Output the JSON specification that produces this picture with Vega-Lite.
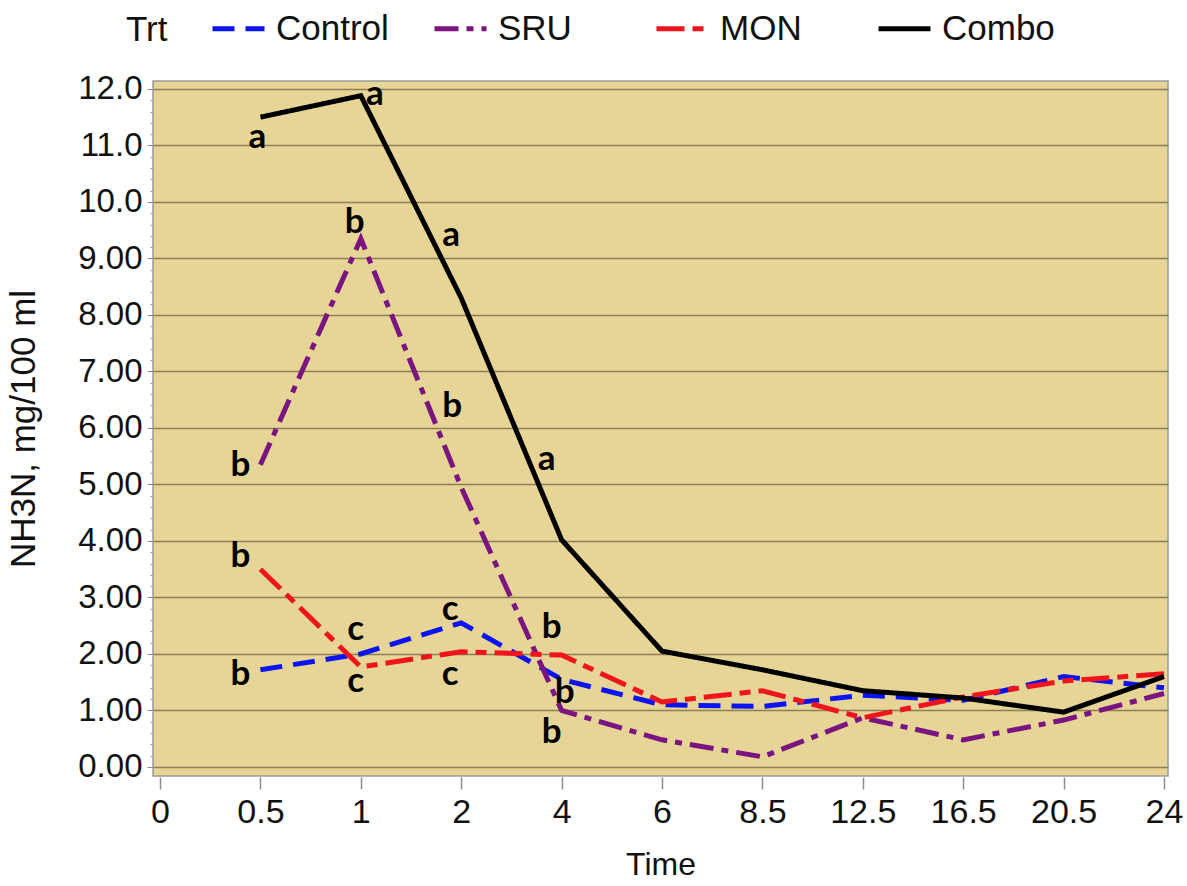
{
  "$schema": "https://vega.github.io/schema/vega-lite/v6.json",
  "width": 1015,
  "height": 695,
  "autosize": {"type": "none"},
  "padding": {"left": 153, "top": 81, "right": 19, "bottom": 110},
  "background": "white",
  "config": {
    "view": {"fill": "#E6D596", "stroke": "#9A9A9A", "strokeWidth": 1.5},
    "font": "Liberation Sans"
  },
  "datasets": {
    "series": [
      {"Trt": "Control", "Time": "0.5", "Slot": 1, "NH3N": 1.72},
      {"Trt": "Control", "Time": "1", "Slot": 2, "NH3N": 2.0},
      {"Trt": "Control", "Time": "2", "Slot": 3, "NH3N": 2.55},
      {"Trt": "Control", "Time": "4", "Slot": 4, "NH3N": 1.55},
      {"Trt": "Control", "Time": "6", "Slot": 5, "NH3N": 1.1},
      {"Trt": "Control", "Time": "8.5", "Slot": 6, "NH3N": 1.07},
      {"Trt": "Control", "Time": "12.5", "Slot": 7, "NH3N": 1.27},
      {"Trt": "Control", "Time": "16.5", "Slot": 8, "NH3N": 1.18},
      {"Trt": "Control", "Time": "20.5", "Slot": 9, "NH3N": 1.6},
      {"Trt": "Control", "Time": "24", "Slot": 10, "NH3N": 1.4},
      {"Trt": "SRU", "Time": "0.5", "Slot": 1, "NH3N": 5.35},
      {"Trt": "SRU", "Time": "1", "Slot": 2, "NH3N": 9.35},
      {"Trt": "SRU", "Time": "2", "Slot": 3, "NH3N": 4.95},
      {"Trt": "SRU", "Time": "4", "Slot": 4, "NH3N": 1.0},
      {"Trt": "SRU", "Time": "6", "Slot": 5, "NH3N": 0.48},
      {"Trt": "SRU", "Time": "8.5", "Slot": 6, "NH3N": 0.18},
      {"Trt": "SRU", "Time": "12.5", "Slot": 7, "NH3N": 0.87},
      {"Trt": "SRU", "Time": "16.5", "Slot": 8, "NH3N": 0.48},
      {"Trt": "SRU", "Time": "20.5", "Slot": 9, "NH3N": 0.83},
      {"Trt": "SRU", "Time": "24", "Slot": 10, "NH3N": 1.3},
      {"Trt": "MON", "Time": "0.5", "Slot": 1, "NH3N": 3.5},
      {"Trt": "MON", "Time": "1", "Slot": 2, "NH3N": 1.77},
      {"Trt": "MON", "Time": "2", "Slot": 3, "NH3N": 2.04},
      {"Trt": "MON", "Time": "4", "Slot": 4, "NH3N": 1.98},
      {"Trt": "MON", "Time": "6", "Slot": 5, "NH3N": 1.15},
      {"Trt": "MON", "Time": "8.5", "Slot": 6, "NH3N": 1.35},
      {"Trt": "MON", "Time": "12.5", "Slot": 7, "NH3N": 0.87},
      {"Trt": "MON", "Time": "16.5", "Slot": 8, "NH3N": 1.24},
      {"Trt": "MON", "Time": "20.5", "Slot": 9, "NH3N": 1.52},
      {"Trt": "MON", "Time": "24", "Slot": 10, "NH3N": 1.65},
      {"Trt": "Combo", "Time": "0.5", "Slot": 1, "NH3N": 11.5},
      {"Trt": "Combo", "Time": "1", "Slot": 2, "NH3N": 11.88},
      {"Trt": "Combo", "Time": "2", "Slot": 3, "NH3N": 8.3},
      {"Trt": "Combo", "Time": "4", "Slot": 4, "NH3N": 4.02},
      {"Trt": "Combo", "Time": "6", "Slot": 5, "NH3N": 2.05},
      {"Trt": "Combo", "Time": "8.5", "Slot": 6, "NH3N": 1.72},
      {"Trt": "Combo", "Time": "12.5", "Slot": 7, "NH3N": 1.35},
      {"Trt": "Combo", "Time": "16.5", "Slot": 8, "NH3N": 1.22},
      {"Trt": "Combo", "Time": "20.5", "Slot": 9, "NH3N": 0.97},
      {"Trt": "Combo", "Time": "24", "Slot": 10, "NH3N": 1.6}
    ],
    "letters": [
      {"Letter": "a", "Slot": 0.97, "Level": 10.96},
      {"Letter": "a", "Slot": 2.14, "Level": 11.72},
      {"Letter": "a", "Slot": 2.9, "Level": 9.22},
      {"Letter": "a", "Slot": 3.85, "Level": 5.26},
      {"Letter": "b", "Slot": 0.8, "Level": 5.15},
      {"Letter": "b", "Slot": 1.94, "Level": 9.45},
      {"Letter": "b", "Slot": 2.91, "Level": 6.19},
      {"Letter": "b", "Slot": 3.9, "Level": 0.42},
      {"Letter": "b", "Slot": 0.8, "Level": 3.54},
      {"Letter": "c", "Slot": 1.95, "Level": 1.33},
      {"Letter": "c", "Slot": 2.89, "Level": 1.45},
      {"Letter": "b", "Slot": 3.9, "Level": 2.28},
      {"Letter": "b", "Slot": 0.8, "Level": 1.45},
      {"Letter": "c", "Slot": 1.95, "Level": 2.25},
      {"Letter": "c", "Slot": 2.89, "Level": 2.6},
      {"Letter": "b", "Slot": 4.03, "Level": 1.13}
    ]
  },
  "resolve": {"scale": {"y": "shared", "x": "shared"}, "axis": {"y": "independent"}},
  "layer": [
    {
      "data": {"name": "series"},
      "mark": {"type": "line"},
      "encoding": {
        "x": {
          "field": "Slot", "type": "quantitative",
          "scale": {"domain": [-0.07, 10.04], "nice": false, "zero": false},
          "axis": {
            "values": [0, 1, 2, 3, 4, 5, 6, 7, 8, 9, 10],
            "labelExpr": "['0','0.5','1','2','4','6','8.5','12.5','16.5','20.5','24'][datum.value]",
            "grid": false, "domain": false, "offset": 1,
            "tickSize": 12, "tickColor": "#8C8C8C", "tickWidth": 1.5,
            "labelFontSize": 34, "labelPadding": 6, "labelColor": "#111111",
            "title": "Time", "titleFontSize": 32, "titleFontWeight": "normal",
            "titleColor": "#111111", "titlePadding": 20
          }
        },
        "y": {
          "field": "NH3N", "type": "quantitative",
          "scale": {"domain": [-0.16, 12.14], "nice": false, "zero": false},
          "axis": {
            "orient": "left",
            "values": [0, 1, 2, 3, 4, 5, 6, 7, 8, 9, 10, 11, 12],
            "labelExpr": "datum.value >= 10 ? format(datum.value, '.1f') : format(datum.value, '.2f')",
            "grid": true, "gridColor": "#8E7F55", "gridWidth": 1.5,
            "domain": false, "tickSize": 6, "tickColor": "#8C8C8C",
            "labelFontSize": 33, "labelPadding": 5, "labelColor": "#111111",
            "title": "NH3N, mg/100 ml", "titleFontSize": 35, "titleFontWeight": "normal",
            "titleColor": "#111111", "titlePadding": 36
          }
        },
        "color": {
          "field": "Trt", "type": "nominal",
          "scale": {"domain": ["Control", "SRU", "MON", "Combo"], "range": ["#0A14F0", "#7A1480", "#F0141E", "#000000"]},
          "legend": {
            "orient": "none", "legendX": -27, "legendY": -81,
            "direction": "horizontal", "title": "Trt", "titleOrient": "left",
            "titleAnchor": "middle", "titleBaseline": "line-top", "titleLineHeight": 15,
            "titleFontSize": 35, "titleFontWeight": "normal", "titleColor": "#111111",
            "titlePadding": 42, "labelFontSize": 35, "labelColor": "#111111",
            "symbolType": "stroke", "symbolSize": 2704, "symbolStrokeWidth": 4.5,
            "labelOffset": 9, "columnPadding": 35, "gridAlign": "all", "padding": 0
          }
        },
        "strokeDash": {
          "field": "Trt", "type": "nominal",
          "scale": {"domain": ["Control", "SRU", "MON", "Combo"], "range": [[22, 11], [24, 8, 7, 8], [28, 8, 11, 8], [1, 0]]},
          "legend": {
            "orient": "none", "legendX": -27, "legendY": -81,
            "direction": "horizontal", "title": "Trt", "titleOrient": "left",
            "titleAnchor": "middle", "titleBaseline": "line-top", "titleLineHeight": 15,
            "titleFontSize": 35, "titleFontWeight": "normal", "titleColor": "#111111",
            "titlePadding": 42, "labelFontSize": 35, "labelColor": "#111111",
            "symbolType": "stroke", "symbolSize": 2704, "symbolStrokeWidth": 4.5,
            "labelOffset": 9, "columnPadding": 35, "gridAlign": "all", "padding": 0
          }
        },
        "strokeWidth": {
          "field": "Trt", "type": "nominal",
          "scale": {"domain": ["Control", "SRU", "MON", "Combo"], "range": [5, 5, 5, 3.5]},
          "legend": null
        },
        "order": {"field": "Slot", "type": "quantitative"}
      }
    },
    {
      "data": {"name": "letters"},
      "mark": {"type": "text", "font": "Lato", "fontWeight": "bold", "fontSize": 35, "align": "center", "baseline": "alphabetic", "color": "#000000"},
      "encoding": {
        "x": {"field": "Slot", "type": "quantitative", "scale": {"domain": [-0.07, 10.04], "nice": false, "zero": false}},
        "y": {
          "field": "Level", "type": "quantitative",
          "scale": {"domain": [-0.16, 12.14], "nice": false, "zero": false},
          "axis": {
            "orient": "left", "title": null, "labels": false, "grid": false, "domain": false,
            "values": [0.2, 0.4, 0.6, 0.8, 1.2, 1.4, 1.6, 1.8, 2.2, 2.4, 2.6, 2.8, 3.2, 3.4, 3.6, 3.8, 4.2, 4.4, 4.6, 4.8, 5.2, 5.4, 5.6, 5.8, 6.2, 6.4, 6.6, 6.8, 7.2, 7.4, 7.6, 7.8, 8.2, 8.4, 8.6, 8.8, 9.2, 9.4, 9.6, 9.8, 10.2, 10.4, 10.6, 10.8, 11.2, 11.4, 11.6, 11.8],
            "tickSize": 3, "tickColor": "#9A9A9A", "tickWidth": 1
          }
        },
        "text": {"field": "Letter", "type": "nominal"}
      }
    }
  ]
}
